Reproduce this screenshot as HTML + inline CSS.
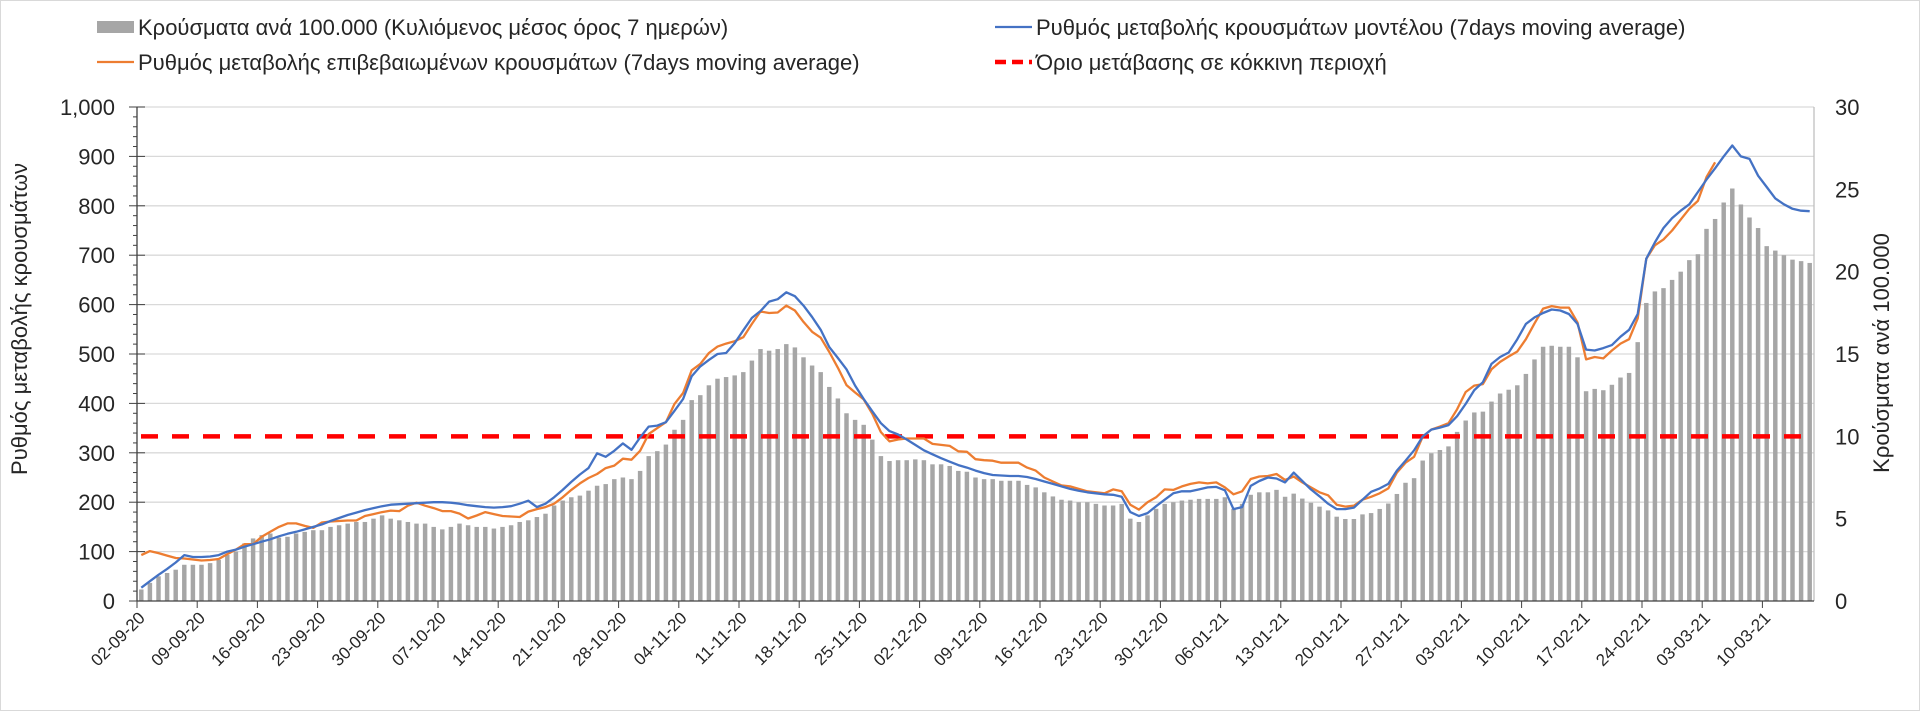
<!DOCTYPE html>
<html><head><meta charset="utf-8">
<style>
html,body{margin:0;padding:0;background:#fff;}
#wrap{position:relative;width:1920px;height:711px;overflow:hidden;box-sizing:border-box;border:1px solid #d9d9d9;}
svg text{font-family:"Liberation Sans",sans-serif;fill:#262626;}
</style></head>
<body>
<div id="wrap">
<svg id="chart" width="1920" height="711"></svg>
</div>
<script>
const dateLabels=["02-09-20","09-09-20","16-09-20","23-09-20","30-09-20","07-10-20","14-10-20","21-10-20","28-10-20","04-11-20","11-11-20","18-11-20","25-11-20","02-12-20","09-12-20","16-12-20","23-12-20","30-12-20","06-01-21","13-01-21","20-01-21","27-01-21","03-02-21","10-02-21","17-02-21","24-02-21","03-03-21","10-03-21"];
const leftTicks=[0,100,200,300,400,500,600,700,800,900,1000];
const rightTicks=[0,5,10,15,20,25,30];
const threshold=10;
const casesPer100k=[0.7,1.1,1.5,1.7,1.9,2.2,2.2,2.2,2.3,2.5,2.8,3.0,3.5,3.8,4.0,4.1,3.85,3.9,4.1,4.2,4.3,4.3,4.5,4.6,4.7,4.8,4.8,5.0,5.2,5.0,4.9,4.8,4.7,4.7,4.5,4.35,4.5,4.7,4.6,4.5,4.5,4.4,4.5,4.6,4.8,4.9,5.1,5.3,5.8,6.1,6.3,6.4,6.7,7.0,7.1,7.4,7.5,7.4,
7.9,8.8,9.1,9.5,10.4,11.0,12.2,12.5,13.1,13.5,13.6,13.7,13.9,14.6,15.3,15.2,15.3,15.6,15.4,14.8,14.3,
13.9,13.0,12.3,11.4,11.0,10.7,9.8,8.8,8.5,8.55,8.55,8.6,8.55,8.3,8.3,8.2,7.9,7.85,7.5,7.4,7.4,7.3,7.3,7.3,7.05,6.9,6.6,6.35,6.15,
6.1,6.0,6.0,5.9,5.8,5.8,5.9,5.0,4.8,5.2,5.6,5.9,6.0,6.1,
6.15,6.2,6.2,6.2,6.3,5.6,5.9,6.45,6.6,6.6,6.75,
6.33,6.52,6.22,5.97,5.73,5.5,5.12,4.98,4.98,5.26,5.34,5.59,5.92,6.5,7.18,7.46,8.53,8.97,9.17,9.39,10.27,10.96,11.45,11.5,12.11,12.6,12.83,13.1,13.79,14.67,15.44,15.5,15.44,15.44,14.8,12.74,12.88,12.8,13.13,13.57,13.85,15.72,18.1,18.8,19.0,19.5,20.0,20.7,21.06,22.6,23.2,24.2,25.05,24.08,23.29,22.65,21.55,21.28,21.0,20.73,20.64,20.53];
const modelRate=[27,40,53,65,78,93,89,89,90,93,100,104,110,115,120,125,131,136,140,145,150,155,162,168,174,179,184,188,192,195,196,197,198,199,200,200,199,197,194,192,190,189,190,192,197,203,190,197,210,225,241,256,
269,299,292,304,319,306,331,353,355,362,385,409,455,475,488,500,502,522,548,573,587,606,611,625,617,598,575,
549,514,492,469,436,409,384,360,344,337,327,316,305,297,289,282,275,270,264,259,255,254,253,253,251,247,242,237,232,227,223,220,218,216,215,211,
180,172,178,192,205,218,222,222,226,230,231,224,186,190,233,243,250,248,240,260,243,226,212,197,186,186,189,
205,221,228,237,264,284,305,333,347,351,356,374,399,427,443,480,494,503,530,561,574,583,590,588,581,561,509,507,512,518,535,549,581,693,726,755,775,790,803,828,853,876,900,922,900,895,861,838,815,803,794,790,789];
const confirmedRate=[93,101,97,92,87,86,84,82,83,85,95,104,115,115,130,140,150,157,157,152,148,159,161,162,163,163,172,176,180,183,182,193,199,193,188,182,182,177,167,173,180,176,172,171,170,181,186,190,197,
210,225,238,
249,257,269,274,288,286,304,338,350,362,399,421,467,480,502,515,521,526,534,561,586,583,584,598,588,565,545,
533,504,472,437,422,408,379,342,323,327,329,329,329,318,316,314,303,302,287,285,284,280,280,280,270,264,250,242,234,232,227,222,220,218,226,222,
195,185,200,210,226,225,232,237,240,238,240,230,216,222,247,252,253,257,245,252,240,230,220,214,195,191,193,205,211,218,228,260,280,292,333,347,353,360,388,423,436,439,469,484,495,505,530,562,592,597,594,594,564,489,494,491,507,521,530,572,693,720,732,750,772,794,810,858,888];

const NS="http://www.w3.org/2000/svg";
const svg=document.getElementById('chart');
const X0=136,X1=1813,Y0=600,Ytop=106;
const nDays=casesPer100k.length;
const band=(X1-X0)/nDays;
const yL=v=>Y0-(v/1000)*(Y0-Ytop);
const yR=v=>Y0-(v/30)*(Y0-Ytop);
const xC=i=>X0+(i+0.5)*band;
const xB=i=>X0+i*band;
function mk(tag,attrs,parent){const e=document.createElementNS(NS,tag);for(const k in attrs)e.setAttribute(k,attrs[k]);(parent||svg).appendChild(e);return e;}

// gridlines
leftTicks.forEach(v=>{if(v===0)return;const l=mk('line',{x1:X0,x2:X1,y1:yL(v),y2:yL(v),stroke:'#d9d9d9','stroke-width':1.3});

});

// bars
const bw=band*0.52;
casesPer100k.forEach((v,i)=>{const r=mk('rect',{x:xC(i)-bw/2,y:yR(v),width:bw,height:Y0-yR(v),fill:'#a6a6a6'});

});

// threshold
const th=mk('line',{x1:X0+4,x2:X1-10,y1:yR(threshold),y2:yR(threshold),stroke:'#ff0000','stroke-width':4.5,'stroke-dasharray':'17 14'});



// lines
function line(arr,color,name){const d=arr.map((v,i)=>(i?'L':'M')+xC(i).toFixed(1)+' '+yL(v).toFixed(1)).join(' ');
const p=mk('path',{d:d,fill:'none',stroke:color,'stroke-width':2.3,'stroke-linejoin':'round'});

}
line(confirmedRate,'#ed7d31','confirmed-cases-rate-line');
line(modelRate,'#4472c4','model-cases-rate-line');

// axes
const la=mk('line',{x1:X0,x2:X0,y1:Ytop,y2:Y0,stroke:'#404040','stroke-width':1.3});


for(let v=0;v<=1000;v+=20){const major=v%100===0;mk('line',{x1:major?X0-8:X0-4,x2:major?X0+8:X0,y1:yL(v),y2:yL(v),stroke:'#404040','stroke-width':1});}
leftTicks.forEach(v=>{const t=mk('text',{x:114,y:yL(v)+8,'text-anchor':'end','font-size':22});t.textContent=v.toLocaleString('en-US');

});
const ra=mk('line',{x1:X1,x2:X1,y1:Ytop,y2:Y0,stroke:'#bfbfbf','stroke-width':1.3});


rightTicks.forEach(v=>{const t=mk('text',{x:1834,y:yR(v)+8,'font-size':22});t.textContent=v;

});
const ba=mk('line',{x1:X0,x2:X1,y1:Y0,y2:Y0,stroke:'#404040','stroke-width':1.3});


dateLabels.forEach((s,k)=>{const x=xB(k*7);mk('line',{x1:x,x2:x,y1:Y0,y2:Y0+7,stroke:'#404040','stroke-width':1});
const t=mk('text',{x:x+9,y:Y0+18,'text-anchor':'end','font-size':17,transform:`rotate(-45 ${x+9} ${Y0+18})`});t.textContent=s;

});

// axis titles
const lt=mk('text',{x:0,y:0,'text-anchor':'middle','font-size':22,transform:'translate(26 318) rotate(-90)'});lt.textContent='Ρυθμός μεταβολής κρουσμάτων';


const rt=mk('text',{x:0,y:0,'text-anchor':'middle','font-size':22,transform:'translate(1888 352) rotate(-90)'});rt.textContent='Κρούσματα ανά 100.000';



// legend
const g=mk('g',{});


function leg(x,y,type,color,label,name){
 const e=mk('g',{},g);
 
 
 if(type==='bar')mk('rect',{x:x,y:y-6,width:37,height:12,fill:color},e);
 else mk('line',{x1:x,x2:x+37,y1:y,y2:y,stroke:color,'stroke-width':type==='dash'?4.5:2.3,'stroke-dasharray':type==='dash'?'11 6':''},e);
 const t=mk('text',{x:x+41,y:y+8,'font-size':22},e);t.textContent=label;}
leg(96,26,'bar','#a6a6a6','Κρούσματα ανά 100.000 (Κυλιόμενος μέσος όρος 7 ημερών)','legend-cases-per-100k');
leg(96,61,'line','#ed7d31','Ρυθμός μεταβολής επιβεβαιωμένων κρουσμάτων (7days moving average)','legend-confirmed-rate');
leg(994,26,'line','#4472c4','Ρυθμός μεταβολής κρουσμάτων μοντέλου (7days moving average)','legend-model-rate');
leg(994,61,'dash','#ff0000','Όριο μετάβασης σε κόκκινη περιοχή','legend-red-threshold');
</script>
</body></html>
